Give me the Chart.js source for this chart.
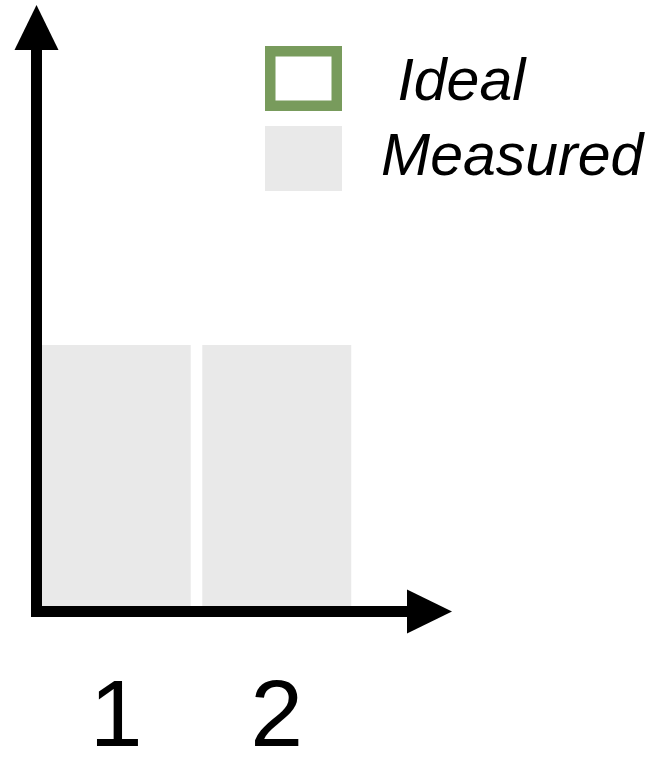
<!DOCTYPE html>
<html>
<head>
<meta charset="utf-8">
<script src="https://cdn.jsdelivr.net/npm/chart.js@4.4.1/dist/chart.umd.min.js"></script>
<style>
    html, body { margin: 0; padding: 0; background: #ffffff; }
    #wrap { width: 652px; height: 759px; position: relative; }
</style>
</head>
<body>
<div id="wrap"><canvas id="chart"></canvas></div>
<script>
// categories and values (no y ticks, so units are relative)
var categories = ['1', '2'];
var measuredValues = [1, 1];
var idealValues = [null, null];   // ideal bars are not shown in this frame
var seriesLabels = [' Ideal', 'Measured'];
var yMax = 2;

var FONT = "'Liberation Sans', Arial, Helvetica, sans-serif";

// thick black axes with triangular heads, drawn from the chart area
var axisArrows = {
    id: 'axisArrows',
    afterDatasetsDraw: function (chart, args, opts) {
        var ctx = chart.ctx;
        var area = chart.chartArea;
        var w = opts.lineWidth;
        var cx = area.left + 0.5;
        var cy = area.bottom + w / 2;
        var topTip = area.top - opts.overTop;
        var rightTip = area.right + opts.overRight;

        ctx.save();
        ctx.fillStyle = opts.color;
        // y shaft + head
        ctx.fillRect(cx - w / 2, topTip + opts.headLength, w, cy + w / 2 - topTip - opts.headLength);
        ctx.beginPath();
        ctx.moveTo(cx, topTip);
        ctx.lineTo(cx + opts.headHalf, topTip + opts.headLength);
        ctx.lineTo(cx - opts.headHalf, topTip + opts.headLength);
        ctx.closePath();
        ctx.fill();
        // x shaft + head
        ctx.fillRect(cx - w / 2, cy - w / 2, rightTip - opts.headLength - cx + w / 2, w);
        ctx.beginPath();
        ctx.moveTo(rightTip, cy);
        ctx.lineTo(rightTip - opts.headLength, cy - opts.headHalf);
        ctx.lineTo(rightTip - opts.headLength, cy + opts.headHalf);
        ctx.closePath();
        ctx.fill();
        ctx.restore();
    }
};

// legend with big boxes, laid out like the slide
var boxLegend = {
    id: 'boxLegend',
    afterDraw: function (chart, args, opts) {
        var ctx = chart.ctx;
        ctx.save();
        chart.data.datasets.forEach(function (ds, i) {
            var x = opts.left;
            var y = opts.boxTop + i * opts.boxStep;
            var bw = ds.borderWidth || 0;
            ctx.fillStyle = ds.backgroundColor;
            ctx.fillRect(x, y, opts.boxWidth, opts.boxHeight);
            if (bw) {
                ctx.strokeStyle = ds.borderColor;
                ctx.lineWidth = bw;
                ctx.strokeRect(x + bw / 2, y + bw / 2, opts.boxWidth - bw, opts.boxHeight - bw);
            }
            ctx.fillStyle = opts.color;
            ctx.font = opts.font;
            ctx.textBaseline = 'alphabetic';
            ctx.textAlign = 'left';
            ctx.fillText(ds.label, x + opts.boxWidth + opts.gap, opts.textBase + i * opts.textStep);
        });
        ctx.restore();
    }
};

var chart = new Chart(document.getElementById('chart'), {
    type: 'bar',
    data: {
        labels: categories,
        datasets: [{
            label: seriesLabels[0],
            data: idealValues,
            backgroundColor: '#ffffff',
            borderColor: '#789b5c',
            borderWidth: 10.5,
            grouped: false
        }, {
            label: seriesLabels[1],
            data: measuredValues,
            backgroundColor: '#e9e9e9',
            borderWidth: 0,
            grouped: false
        }]
    },
    options: {
        responsive: true,
        maintainAspectRatio: false,
        animation: false,
        layout: { padding: { left: 36, top: 84, right: 295, bottom: 0 } },
        datasets: { bar: { barPercentage: 0.928, categoryPercentage: 1 } },
        scales: {
            x: {
                type: 'category',
                offset: true,
                grid: { display: false, drawTicks: false },
                border: { display: false },
                ticks: {
                    color: '#000000',
                    padding: 57,
                    maxRotation: 0,
                    font: { family: FONT, size: 95 }
                },
                afterFit: function (scale) { scale.height = 153; }
            },
            y: { display: false, min: 0, max: yMax }
        },
        plugins: {
            legend: { display: false },
            tooltip: { enabled: false },
            axisArrows: { color: '#000000', lineWidth: 11, headHalf: 22, headLength: 45, overTop: 79, overRight: 95 },
            boxLegend: {
                left: 265, boxTop: 46, boxStep: 80, boxWidth: 77, boxHeight: 65,
                gap: 39, textBase: 100, textStep: 75,
                color: '#000000', font: 'italic 59px ' + FONT
            }
        }
    },
    plugins: [axisArrows, boxLegend]
});
</script>
</body>
</html>
